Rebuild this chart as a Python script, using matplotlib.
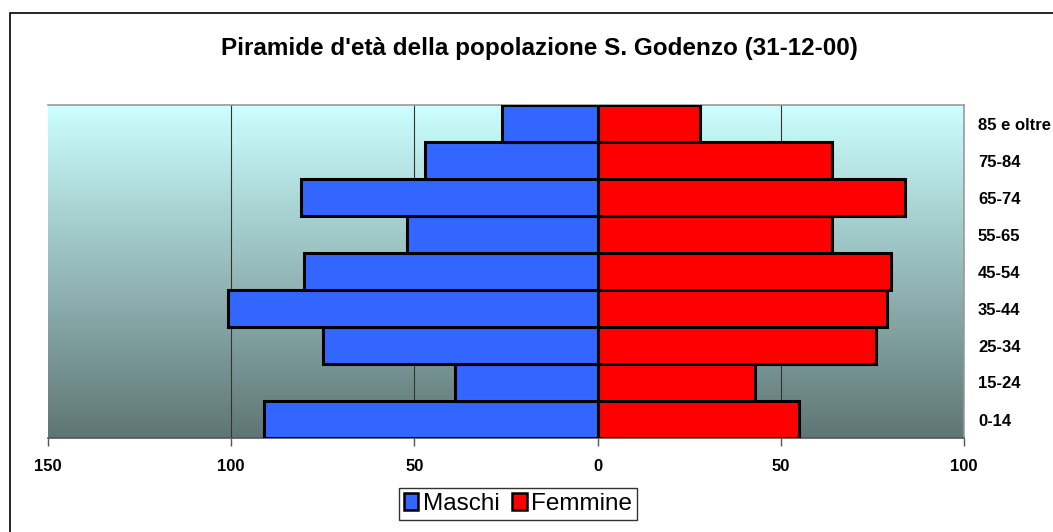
import numpy as np
import matplotlib
matplotlib.use("Agg")
import matplotlib.pyplot as plt
from matplotlib.colors import LinearSegmentedColormap
from matplotlib.patches import Rectangle, Patch

# ---------------------------------------------------------------
# Data: age pyramid, S. Godenzo (31-12-00)
# ---------------------------------------------------------------

age_groups = ["0-14", "15-24", "25-34", "35-44", "45-54",
              "55-65", "65-74", "75-84", "85 e oltre"]
maschi  = [91, 39, 75, 101, 80, 52, 81, 47, 26]
femmine = [55, 43, 76, 79, 80, 64, 84, 64, 28]
xticks  = [-150, -100, -50, 0, 50, 100]
xlabels = ["150", "100", "50", "0", "50", "100"]

plt.rcParams['font.family'] = ['Liberation Sans', 'DejaVu Sans']

fig = plt.figure(figsize=(10.53, 5.32), dpi=100)
ax = fig.add_axes([48/1053, 1 - 438/532, (964 - 48)/1053, (438 - 105)/532])

# background gradient of the plot area
cmap = LinearSegmentedColormap.from_list("bg", ["#5f7575", "#ccffff"])
grad = np.linspace(0, 1, 256).reshape(-1, 1)
ax.imshow(grad, cmap=cmap, aspect='auto', origin='lower',
          extent=[-150, 100, -0.5, len(age_groups) - 0.5], zorder=0)

y = np.arange(len(age_groups))
ax.barh(y, [-v for v in maschi], height=1.0, color="#3366ff",
        edgecolor="black", linewidth=2.2, zorder=3)
ax.barh(y, femmine, height=1.0, color="#ff0000",
        edgecolor="black", linewidth=2.2, zorder=3)

ax.set_xlim(-150, 100)
ax.set_ylim(-0.5, len(age_groups) - 0.5)

for gx in [-100, -50, 50]:
    ax.axvline(gx, color="#333333", linewidth=0.8, zorder=1)

ax.set_xticks(xticks)
ax.set_xticklabels(xlabels, fontsize=12, fontweight='bold')
ax.tick_params(axis='x', direction='out', length=6, width=1,
               color="#555555", pad=9)

ax.yaxis.tick_right()
ax.set_yticks(y)
ax.set_yticklabels(age_groups, fontsize=12, fontweight='bold')
ax.tick_params(axis='y', length=0, pad=10)

for side in ['top', 'right', 'bottom']:
    ax.spines[side].set_color("#999999")
    ax.spines[side].set_linewidth(1.2)
ax.spines['bottom'].set_color("#555555")
ax.spines['left'].set_visible(False)

fig.text(539/1053, 1 - 48/532, "Piramide d'età della popolazione S. Godenzo (31-12-00)",
         ha='center', va='center', fontsize=17.5, fontweight='bold')

# chart outer frame
fig.patches.append(Rectangle((10/1053, -0.1), 1.2, (1 - 13/532) + 0.1,
                             transform=fig.transFigure, fill=False,
                             edgecolor="black", linewidth=1.2))

handles = [Patch(facecolor="#3366ff", edgecolor="black", linewidth=1.8, label="Maschi"),
           Patch(facecolor="#ff0000", edgecolor="black", linewidth=1.8, label="Femmine")]
leg = fig.legend(handles=handles, loc='center', bbox_to_anchor=(518/1053, 1 - 504/532),
                 ncol=2, fontsize=17.5, frameon=True, fancybox=False,
                 handlelength=0.6, handleheight=0.7, handletextpad=0.2,
                 columnspacing=0.5, borderpad=0.2, borderaxespad=0)
leg.get_frame().set_edgecolor("black")
leg.get_frame().set_linewidth(1.0)

fig.savefig("out.png", dpi=100)
